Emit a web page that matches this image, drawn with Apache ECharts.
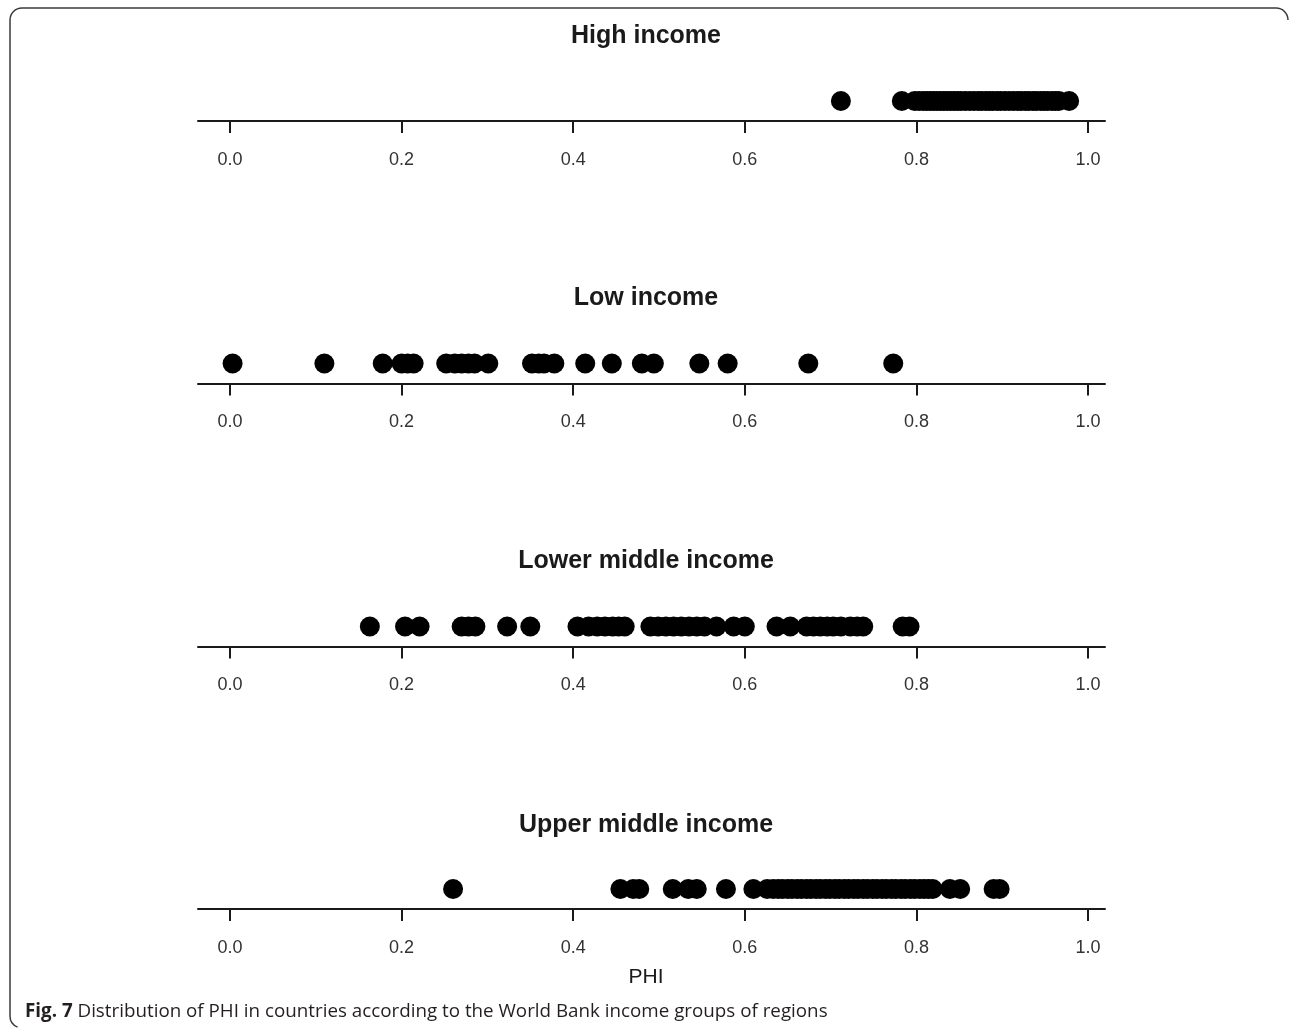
<!DOCTYPE html>
<html>
<head>
<meta charset="utf-8">
<script src="https://cdn.jsdelivr.net/npm/echarts@6/dist/echarts.min.js"></script>
<style>
html,body{margin:0;padding:0;background:#fff;}
#chart{width:1292px;height:1031px;}
</style>
</head>
<body>
<div id="chart"></div>
<script>
// ---- data ----
var groupNames = ["High income", "Low income", "Lower middle income", "Upper middle income"];
var tickValues = [0, 0.2, 0.4, 0.6, 0.8, 1.0];
var tickLabels = ["0.0", "0.2", "0.4", "0.6", "0.8", "1.0"];
var xAxisTitle = "PHI";
var captionBold = "Fig. 7";
var captionText = " Distribution of PHI in countries according to the World Bank income groups of regions";

var highIncome = [0.712, 0.783, 0.798, 0.803, 0.808, 0.812, 0.816, 0.820, 0.824, 0.828, 0.832, 0.836,
  0.840, 0.844, 0.848, 0.852, 0.857, 0.862, 0.867, 0.872, 0.876, 0.881, 0.885, 0.889, 0.894, 0.898,
  0.903, 0.908, 0.913, 0.918, 0.922, 0.927, 0.931, 0.936, 0.940, 0.945, 0.949, 0.953, 0.958, 0.962,
  0.966, 0.978];
var lowIncome = [0.003, 0.110, 0.178, 0.200, 0.207, 0.214, 0.252, 0.262, 0.270, 0.278, 0.285, 0.301,
  0.352, 0.360, 0.366, 0.378, 0.414, 0.445, 0.480, 0.494, 0.547, 0.580, 0.674, 0.773];
var lowerMiddleIncome = [0.163, 0.204, 0.221, 0.270, 0.278, 0.286, 0.323, 0.350, 0.405, 0.418, 0.428,
  0.437, 0.446, 0.453, 0.460, 0.490, 0.499, 0.508, 0.517, 0.526, 0.535, 0.544, 0.553, 0.567, 0.587,
  0.600, 0.637, 0.653, 0.672, 0.680, 0.688, 0.696, 0.703, 0.712, 0.723, 0.731, 0.738, 0.784, 0.792];
var upperMiddleIncome = [0.260, 0.455, 0.470, 0.477, 0.516, 0.534, 0.544, 0.578, 0.610, 0.626, 0.633,
  0.639, 0.644, 0.650, 0.655, 0.661, 0.666, 0.672, 0.677, 0.683, 0.688, 0.694, 0.699, 0.705, 0.710,
  0.716, 0.721, 0.727, 0.732, 0.738, 0.743, 0.749, 0.754, 0.760, 0.765, 0.771, 0.776, 0.782, 0.787,
  0.793, 0.798, 0.804, 0.809, 0.814, 0.819, 0.839, 0.851, 0.890, 0.897];

var groups = [highIncome, lowIncome, lowerMiddleIncome, upperMiddleIncome];

// ---- layout ----
var axisYs = [121, 383.5, 646.5, 909];
var titleYs = [36, 298, 561, 825];
var gridLeft = 198, gridWidth = 907;
var font = "'Liberation Sans', Arial, sans-serif";

var grids = [], xAxes = [], yAxes = [], series = [], titles = [];
groups.forEach(function (vals, i) {
  grids.push({ left: gridLeft, width: gridWidth, top: axisYs[i] - 40, height: 40 });
  xAxes.push({
    type: 'value', gridIndex: i, min: -0.0373, max: 1.0198,
    axisLine: { show: true, onZero: false, lineStyle: { color: '#1a1a1a', width: 2 } },
    axisTick: { show: true, length: 12, customValues: tickValues, lineStyle: { color: '#1a1a1a', width: 2 } },
    axisLabel: {
      show: true, customValues: tickValues, margin: 30, fontSize: 18, color: '#333', fontFamily: font,
      formatter: function (v) {
        var k = tickValues.indexOf(Math.round(v * 10) / 10);
        return k >= 0 ? tickLabels[k] : v.toFixed(1);
      }
    },
    splitLine: { show: false }
  });
  yAxes.push({ type: 'value', gridIndex: i, min: 0, max: 2, show: false });
  series.push({
    type: 'scatter', xAxisIndex: i, yAxisIndex: i, symbol: 'circle', symbolSize: 20,
    itemStyle: { color: '#000', opacity: 1 }, silent: true,
    data: vals.map(function (v) { return [v, 1]; })
  });
  titles.push({
    text: groupNames[i], left: 646, top: titleYs[i] - 15, textAlign: 'center', padding: 0,
    textStyle: { fontFamily: font, fontSize: 25, fontWeight: 'bold', color: '#1a1a1a', lineHeight: 30 }
  });
});
titles.push({
  text: xAxisTitle, left: 646, top: 977 - 12, textAlign: 'center', padding: 0,
  textStyle: { fontFamily: font, fontSize: 21, fontWeight: 'normal', color: '#1a1a1a', lineHeight: 24 }
});
titles.push({
  text: '{b|' + captionBold + '}{n|' + captionText + '}', left: 25, top: 1000, padding: 0,
  textStyle: {
    rich: {
      b: { fontFamily: "'Open Sans', sans-serif", fontSize: 18.8, fontWeight: 'bold', color: '#231f20', lineHeight: 24 },
      n: { fontFamily: "'Open Sans', sans-serif", fontSize: 18.8, fontWeight: 'normal', color: '#231f20', lineHeight: 24 }
    }
  }
});

var borderStyle = { fill: null, stroke: '#3a3a3a', lineWidth: 1.5 };
var chart = echarts.init(document.getElementById('chart'), null, { renderer: 'canvas' });
chart.setOption({
  animation: false,
  backgroundColor: '#fff',
  title: titles,
  grid: grids,
  xAxis: xAxes,
  yAxis: yAxes,
  series: series,
  graphic: [
    { type: 'line', silent: true, shape: { x1: 22, y1: 8, x2: 1276, y2: 8 }, style: borderStyle },
    { type: 'line', silent: true, shape: { x1: 10, y1: 20, x2: 10, y2: 1016 }, style: borderStyle },
    { type: 'arc', silent: true, shape: { cx: 22, cy: 20, r: 12, startAngle: Math.PI, endAngle: Math.PI * 1.5 }, style: borderStyle },
    { type: 'arc', silent: true, shape: { cx: 1276, cy: 20, r: 12, startAngle: Math.PI * 1.5, endAngle: Math.PI * 2 }, style: borderStyle },
    { type: 'arc', silent: true, shape: { cx: 22, cy: 1016, r: 12, startAngle: Math.PI * 0.62, endAngle: Math.PI }, style: borderStyle }
  ]
});
</script>
</body>
</html>
